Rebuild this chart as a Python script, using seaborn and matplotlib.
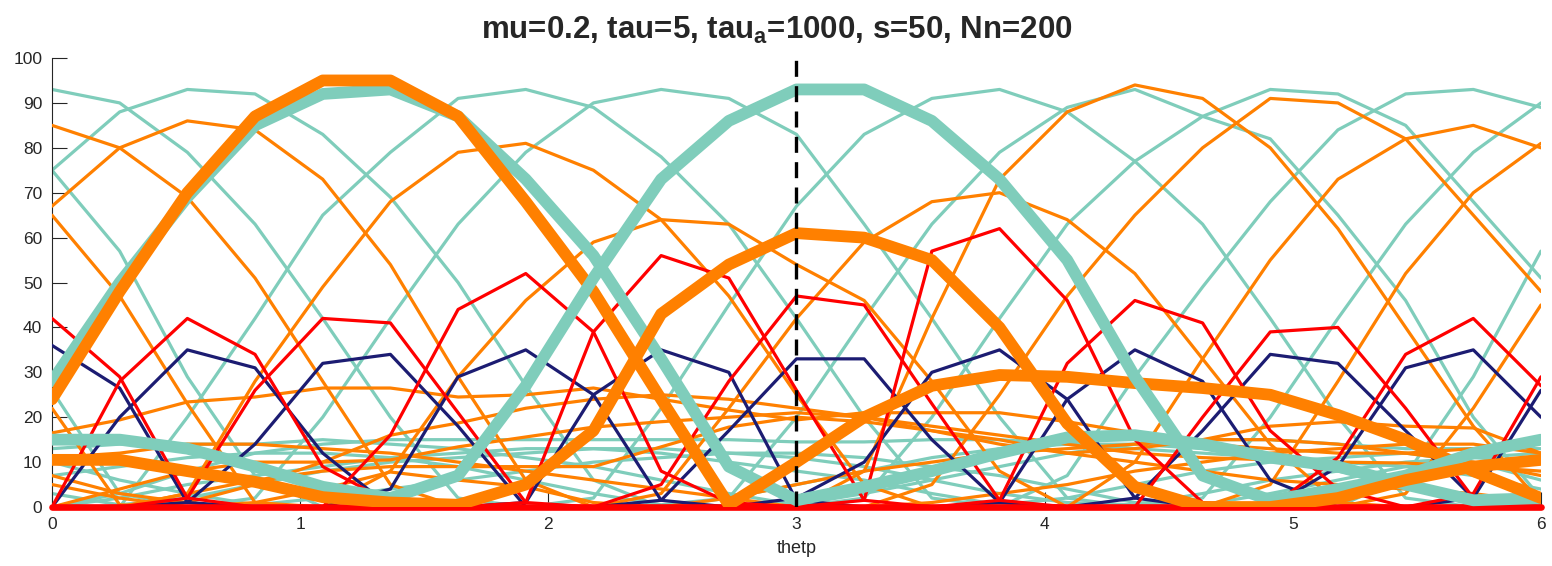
import numpy as np
import matplotlib
matplotlib.use("Agg")
import matplotlib.pyplot as plt
import seaborn as sns

# ── Data (23 samples of thetp over 0..6) ─────────────────────────────────────
thetp = np.linspace(0, 6, 23)

# tall teal curves (thin)
teal_tall = [
    [93, 90, 79, 63, 42, 20, 2, 0, 0, 0, 0, 0, 0, 0, 0, 0, 0, 2, 20, 42, 63, 79, 90],
    [75, 88, 93, 92, 83, 69, 50, 27, 6, 0, 0, 0, 0, 0, 0, 0, 0, 0, 0, 0, 7, 29, 57],
    [0, 0, 20, 42, 65, 79, 91, 93, 89, 78, 63, 42, 20, 2, 0, 0, 0, 0, 0, 0, 0, 0, 0],
    [0, 0, 0, 2, 20, 42, 63, 79, 90, 93, 91, 83, 63, 42, 20, 2, 0, 0, 0, 0, 0, 0, 0],
    [0, 0, 0, 0, 0, 0, 0, 0, 2, 22, 45, 67, 83, 91, 93, 88, 77, 63, 42, 20, 2, 0, 0],
    [0, 0, 0, 0, 0, 0, 0, 0, 0, 0, 2, 20, 42, 63, 79, 89, 93, 87, 82, 65, 46, 20, 2],
    [26, 3, 0, 0, 0, 0, 0, 0, 0, 0, 0, 0, 2, 20, 42, 63, 77, 87, 93, 92, 85, 68, 51],
    [75, 57, 29, 7, 0, 0, 0, 0, 0, 0, 0, 0, 0, 0, 0, 7, 29, 49, 68, 84, 92, 93, 89],
]
# low teal curves (thin)
teal_low = [
    [0, 3, 8, 12, 14, 15, 15, 15, 15, 15, 15, 14.5, 14.5, 15, 15, 14, 13, 12, 11, 10, 9, 7, 4],
    [13, 14, 14, 14, 15, 14, 13, 11, 9, 6, 3, 0.5, 3, 6, 9, 12, 14, 15, 15, 14, 13, 13, 13],
    [0, 2, 5, 7, 9, 11, 12, 13, 13, 12, 10, 8, 6, 3, 0.5, 2, 5, 8, 10, 11, 12, 10, 6],
    [10, 6, 3, 0.5, 2, 4, 6, 8, 10, 11, 12, 12, 11, 9, 7, 4, 1, 0.5, 3, 6, 9, 11, 12],
    [3, 0.5, 2, 5, 8, 10, 11, 12, 13, 13, 12, 11, 9, 6, 3, 1, 0.5, 3, 6, 8, 10, 11, 10],
    [7, 9, 11, 12, 12, 11, 9, 6, 3, 0.5, 2, 5, 8, 11, 13, 14, 14, 13, 11, 8, 5, 2, 0.5],
]
# tall orange curves (thin)
orange_tall = [
    [85, 80, 69, 51, 28, 5, 0, 0, 0, 0, 0, 0, 0, 0, 0, 0, 0, 0, 5, 28, 52, 70, 81],
    [67, 80, 86, 84, 73, 54, 29, 6, 0, 0, 0, 0, 0, 0, 0, 0, 0, 0, 0, 0, 3, 22, 45],
    [65, 47, 23, 1, 0, 0, 0, 0, 0, 0, 0, 0, 0, 0, 0, 0, 10, 33, 55, 73, 82, 85, 80],
    [22, 0.5, 0, 0, 0, 0, 0, 0, 0, 0, 0, 0, 0, 5, 25, 47, 65, 80, 91, 90, 82, 65, 48],
    [0, 0, 3, 28, 49, 68, 79, 81, 75, 64, 47, 25, 5, 0, 0, 0, 0, 0, 0, 0, 0, 0, 0],
    [0, 0, 0, 0, 0, 8, 29, 46, 59, 64, 63, 54, 46, 28, 8, 0, 0, 0, 0, 0, 0, 0, 0],
    [0, 0, 0, 0, 0, 0, 0, 0, 0, 3, 22, 42, 59, 68, 70, 64, 52, 33, 14, 1, 0, 0, 0],
    [0, 0, 0, 0, 0, 0, 0, 0, 0, 0, 0, 0, 8, 42, 73, 88, 94, 91, 80, 62, 40, 18, 1],
]
# low orange curves (thin)
orange_low = [
    [16.5, 19.4, 23.4, 24.5, 26.5, 26.5, 24.5, 25, 26.5, 24, 21.6, 19.4, 21, 21, 21, 19, 16.5, 14, 13, 12, 12, 13, 15],
    [7, 3, 1, 5, 10, 16, 18.7, 22, 24, 25, 24, 22, 20, 17, 14, 12, 13, 15, 18, 19, 18, 17.6, 12],
    [0, 4, 8, 10, 10, 10.5, 13.4, 15.6, 17.8, 19, 20, 21, 20, 18, 16, 14, 12, 11, 10.5, 10, 9.8, 9, 8],
    [5, 2, 0, 1, 4, 7.8, 6, 4.5, 1, 0, 2, 5, 8, 10, 12, 13, 14, 15, 15, 14, 12, 10, 7],
    [0, 0, 3, 6, 8, 9, 9, 9, 9, 13.4, 17.8, 20, 19, 17, 15, 12, 10, 8, 6, 5, 4, 3, 1],
    [11, 12, 14, 14, 13, 12, 10, 8, 6, 4, 2, 0, 0, 1, 3, 5, 8, 10, 12, 13, 14, 14, 12],
]
# navy curves
navy = [
    [36, 26.5, 1, 0, 0, 0, 0, 0, 0, 0, 0, 0, 0, 0, 0, 0, 0, 0, 0, 0, 0, 2, 26],
    [0, 20, 35, 31, 12, 0, 0, 0, 0, 0, 0, 0, 0, 0, 0, 0, 0, 0, 0, 0, 0, 0, 0],
    [0, 0, 1, 14, 32, 34, 18, 0, 0, 0, 0, 0, 0, 0, 0, 0, 0, 0, 0, 0, 0, 0, 0],
    [0, 0, 0, 0, 0, 4, 29, 35, 25, 1.5, 0, 0, 0, 0, 0, 0, 0, 0, 0, 0, 0, 0, 0],
    [0, 0, 0, 0, 0, 0, 0, 1, 25, 35, 30, 1.5, 0, 0, 0, 0, 0, 0, 0, 0, 0, 0, 0],
    [0, 0, 0, 0, 0, 0, 0, 0, 0, 1.5, 17, 33, 33, 15, 1, 0, 0, 0, 0, 0, 0, 0, 0],
    [0, 0, 0, 0, 0, 0, 0, 0, 0, 0, 0, 2, 10, 30, 35, 24, 2, 0, 0, 0, 0, 0, 0],
    [0, 0, 0, 0, 0, 0, 0, 0, 0, 0, 0, 0, 0, 0, 1, 24, 35, 28, 6, 0, 0, 0, 0],
    [0, 0, 0, 0, 0, 0, 0, 0, 0, 0, 0, 0, 0, 0, 0, 0, 2, 17, 34, 32, 17, 2, 0],
    [0, 0, 0, 0, 0, 0, 0, 0, 0, 0, 0, 0, 0, 0, 0, 0, 0, 0, 0, 9, 31, 35, 20],
]
# red curves
red = [
    [42, 29, 2, 0, 0, 0, 0, 0, 0, 0, 0, 0, 0, 0, 0, 0, 0, 0, 0, 0, 0, 3, 29],
    [0, 28, 42, 34, 9, 1, 0, 0, 0, 0, 0, 0, 0, 0, 0, 0, 0, 0, 0, 0, 0, 0, 0],
    [0, 0, 2, 26, 42, 41, 21, 1, 0, 0, 0, 0, 0, 0, 0, 0, 0, 0, 0, 0, 0, 0, 0],
    [0, 0, 0, 0, 0, 16, 44, 52, 39, 8, 1, 0, 0, 0, 0, 0, 0, 0, 0, 0, 0, 0, 0],
    [0, 0, 0, 0, 0, 0, 0, 1, 39, 56, 51, 26, 1.5, 0, 0, 0, 0, 0, 0, 0, 0, 0, 0],
    [0, 0, 0, 0, 0, 0, 0, 0, 0, 5, 28, 47, 45, 23, 1.5, 0, 0, 0, 0, 0, 0, 0, 0],
    [0, 0, 0, 0, 0, 0, 0, 0, 0, 0, 0, 0, 1.5, 57, 62, 46, 15, 1, 0, 0, 0, 0, 0],
    [0, 0, 0, 0, 0, 0, 0, 0, 0, 0, 0, 0, 0, 0, 1.5, 32, 46, 41, 17, 4, 0, 0, 0],
    [0, 0, 0, 0, 0, 0, 0, 0, 0, 0, 0, 0, 0, 0, 0, 0, 0, 20, 39, 40, 22, 2, 0],
    [0, 0, 0, 0, 0, 0, 0, 0, 0, 0, 0, 0, 0, 0, 0, 0, 0, 0, 0, 11, 34, 42, 27],
]
red_zero = [0] * 23

# highlighted (thick) curves
teal_thick_a = [28, 50, 69, 85, 92, 93, 87, 73, 56, 33, 9, 1.5, 4.5, 8, 12, 15.5, 16, 14, 11, 9, 5, 1.5, 2]
teal_thick_b = [15, 15, 13, 9, 4.5, 2, 7, 27, 51, 73, 86, 93, 93, 86, 73, 55, 29, 7, 1.5, 4, 7, 12, 15]
orange_thick_a = [24, 48, 70, 87, 95, 95, 87, 68, 48, 24, 0.5, 10, 20, 27, 29.4, 29, 27.6, 26.5, 25, 20.5, 15, 8, 2]
orange_thick_b = [10.5, 10.5, 8, 5.6, 2.2, 1, 0.5, 5, 17, 43, 54, 61, 60, 55, 40, 18.6, 4.5, 0, 0, 2, 6, 9, 10.5]

marker_x = 3
title = r"mu=0.2, tau=5, tau$_{\mathbf{a}}$=1000, s=50, Nn=200"

TEAL = "#7fcdbb"
ORANGE = "#ff8000"
RED = "#ff0000"
NAVY = "#1c1c72"

# ── Figure ───────────────────────────────────────────────────────────────────
sns.set_style("ticks")
plt.rcParams["font.family"] = ["Liberation Sans", "DejaVu Sans"]
plt.rcParams["mathtext.fontset"] = "custom"
plt.rcParams["mathtext.rm"] = "Liberation Sans"
plt.rcParams["mathtext.bf"] = "Liberation Sans:bold"

fig = plt.figure(figsize=(15.52, 5.66), dpi=100)
fig.patch.set_facecolor("white")
ax = fig.add_axes([0.0335, 0.1042, 0.9594, 0.7933])


def draw(vals, color, lw, z, clip=True):
    sns.lineplot(x=thetp, y=vals, color=color, linewidth=lw, ax=ax,
                 zorder=z, legend=False, clip_on=clip)


for v in teal_tall + teal_low:
    draw(v, TEAL, 2.3, 2)
for v in orange_tall + orange_low:
    draw(v, ORANGE, 2.3, 3)
for v in navy:
    draw(v, NAVY, 2.3, 4)
for v in red:
    draw(v, RED, 2.3, 5)
draw(red_zero, RED, 4.8, 6, clip=False)
draw(teal_thick_a, TEAL, 8.5, 7)
draw(orange_thick_a, ORANGE, 8.5, 8)
draw(teal_thick_b, TEAL, 8.5, 9)
draw(orange_thick_b, ORANGE, 8.5, 10)

ax.axvline(marker_x, ymin=0, ymax=0.995, color="black", linewidth=2.4,
           linestyle=(0, (4.8, 2.8)), zorder=11)

ax.set_xlim(0, 6)
ax.set_ylim(0, 100)
ax.set_xticks(range(0, 7))
ax.set_yticks(range(0, 101, 10))
ax.tick_params(direction="in", length=11, width=0.8, labelsize=12.5,
               colors="#262626", pad=7)
for s in ["top", "right"]:
    ax.spines[s].set_visible(False)
for s in ["left", "bottom"]:
    ax.spines[s].set_color("#262626")
    ax.spines[s].set_linewidth(0.8)

ax.set_xlabel("thetp", fontsize=13, color="#262626", labelpad=6)
ax.set_ylabel("")
ax.set_title(title, fontsize=22.5, fontweight="bold", pad=14, x=0.487)

fig.savefig("out.png", dpi=100, facecolor="white")
plt.close(fig)
